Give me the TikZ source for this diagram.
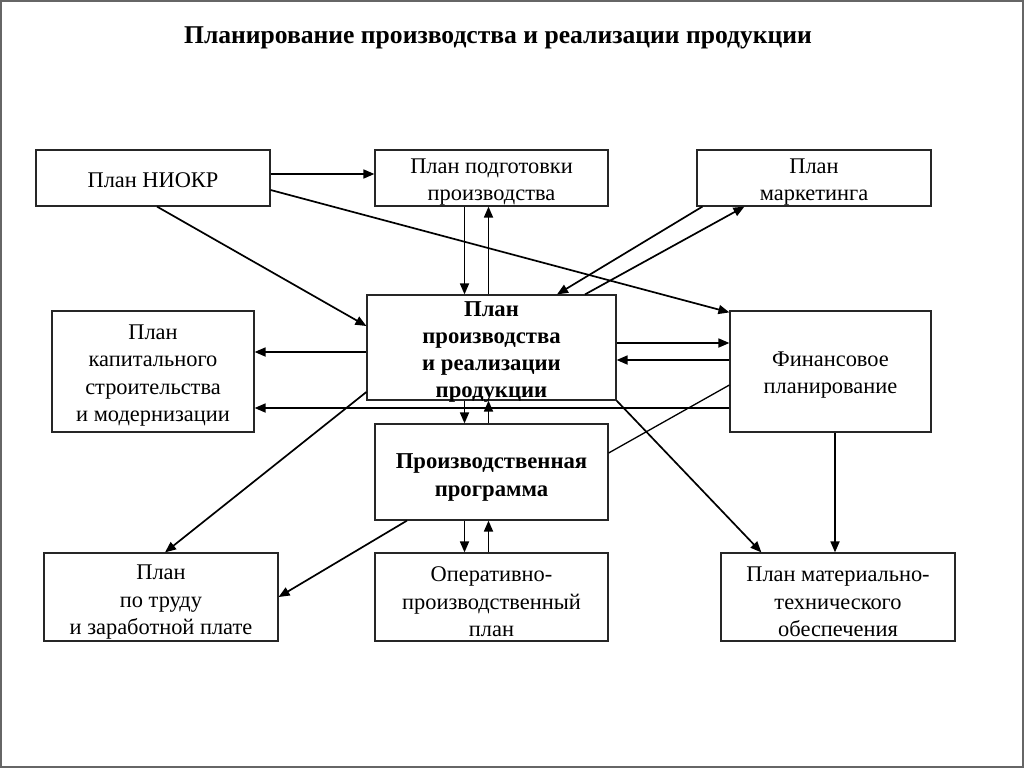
\documentclass[tikz,border=0pt]{standalone}
\usepackage{fontspec}
\setmainfont{Liberation Serif}
\usetikzlibrary{arrows.meta}
\newcommand{\tstrut}{\rule{0pt}{23pt}}
\begin{document}
\begin{tikzpicture}[x=1pt,y=-1pt,
  box/.style={draw=black!85,line width=1.2pt,rectangle,inner sep=0pt,align=center,
    font=\fontsize{22.4}{27.5}\selectfont},
  boldtext/.style={inner sep=0pt,align=center,font=\fontsize{22.7}{26.7}\selectfont\bfseries},
  progbox/.style={box,font=\fontsize{22.7}{28}\selectfont\bfseries},
  conn/.style={line width=1.7pt,-{Triangle[length=11pt,width=9pt]}},
  plain/.style={line width=1.3pt}]
\useasboundingbox (0,0) rectangle (1024,768);
\draw[black!60,line width=2pt] (1,1) rectangle (1023,767);
\node (title) at (498,38) {\fontsize{25.6}{30}\selectfont\bfseries Планирование производства и реализации продукции};
\node[box,minimum width=234pt,minimum height=56pt] (niokr) at (153,178) {\rule{0pt}{19pt}План НИОКР};
\node[box,minimum width=233pt,minimum height=56pt] (prep) at (491.5,178) {\tstrut План подготовки\\производства};
\node[box,minimum width=234pt,minimum height=56pt] (mkt) at (814,178) {\tstrut План\\маркетинга};
\node[box,minimum width=249pt,minimum height=105pt,
  label={[boldtext,yshift=-4.5pt]center:План\\производства\\и реализации\\продукции}] (main) at (491.5,347.5) {};
\node[box,minimum width=202pt,minimum height=121pt] (cap) at (153,371.5) {\tstrut План\\капитального\\строительства\\и модернизации};
\node[box,minimum width=201pt,minimum height=121pt] (fin) at (830.5,371.5) {\rule{0pt}{22pt}Финансовое\\планирование};
\node[progbox,minimum width=233pt,minimum height=96pt] (prog) at (491.5,472) {\rule{0pt}{26pt}Производственная\\программа};
\node[box,minimum width=234pt,minimum height=88pt] (labor) at (161,597) {\rule{0pt}{25pt}План\\по труду\\и заработной плате};
\node[box,minimum width=233pt,minimum height=88pt] (oper) at (491.5,597) {\rule{0pt}{25pt}Оперативно-\\производственный\\план};
\node[box,minimum width=234pt,minimum height=88pt] (mat) at (838,597) {\rule{0pt}{25pt}План материально-\\технического\\обеспечения};
% connectors
\draw[conn] ([yshift=4pt]niokr.east) -- ([yshift=4pt]prep.west);
\draw[conn] ([xshift=4pt]niokr.south) -- ([yshift=21.5pt]main.west);
\draw[conn] ([yshift=-12pt]niokr.east) -- ([yshift=-2pt]fin.north west);
\draw[conn] ([xshift=-27pt]prep.south) -- ([xshift=-27pt]main.north);
\draw[conn] ([xshift=-3pt]main.north) -- ([xshift=-3pt]prep.south);
\draw[conn] ([xshift=6pt]mkt.south west) -- ([xshift=65.5pt]main.north);
\draw[conn] ([xshift=93.5pt]main.north) -- ([xshift=48pt]mkt.south west);
\draw[conn] ([yshift=4.5pt]main.east) -- ([yshift=28.5pt]fin.west);
\draw[conn] ([yshift=11.5pt]fin.west) -- ([yshift=-12.5pt]main.east);
\draw[conn] ([yshift=-4.5pt]main.west) -- ([yshift=19.5pt]cap.east);
\draw[conn] ([yshift=-36.5pt]fin.west) -- ([yshift=-36.5pt]cap.east);
\draw[conn] ([yshift=-44.5pt]main.west) -- ([xshift=4pt]labor.north);
\draw[conn] ([xshift=-27pt]main.south) -- ([xshift=-27pt]prog.north);
\draw[conn] ([xshift=-3pt]prog.north) -- ([xshift=-3pt]main.south);
\draw[conn] ([xshift=-27pt]prog.south) -- ([xshift=-27pt]oper.north);
\draw[conn] ([xshift=-3pt]oper.north) -- ([xshift=-3pt]prog.south);
\draw[conn] ([xshift=-84.5pt]prog.south) -- (labor.east);
\draw[plain] ([yshift=-13.5pt]fin.west) -- ([yshift=19pt]prog.east);
\draw[conn] (main.south east) -- ([xshift=41pt]mat.north west);
\draw[conn] ([xshift=4.5pt]fin.south) -- ([xshift=-3pt]mat.north);
\end{tikzpicture}
\end{document}
